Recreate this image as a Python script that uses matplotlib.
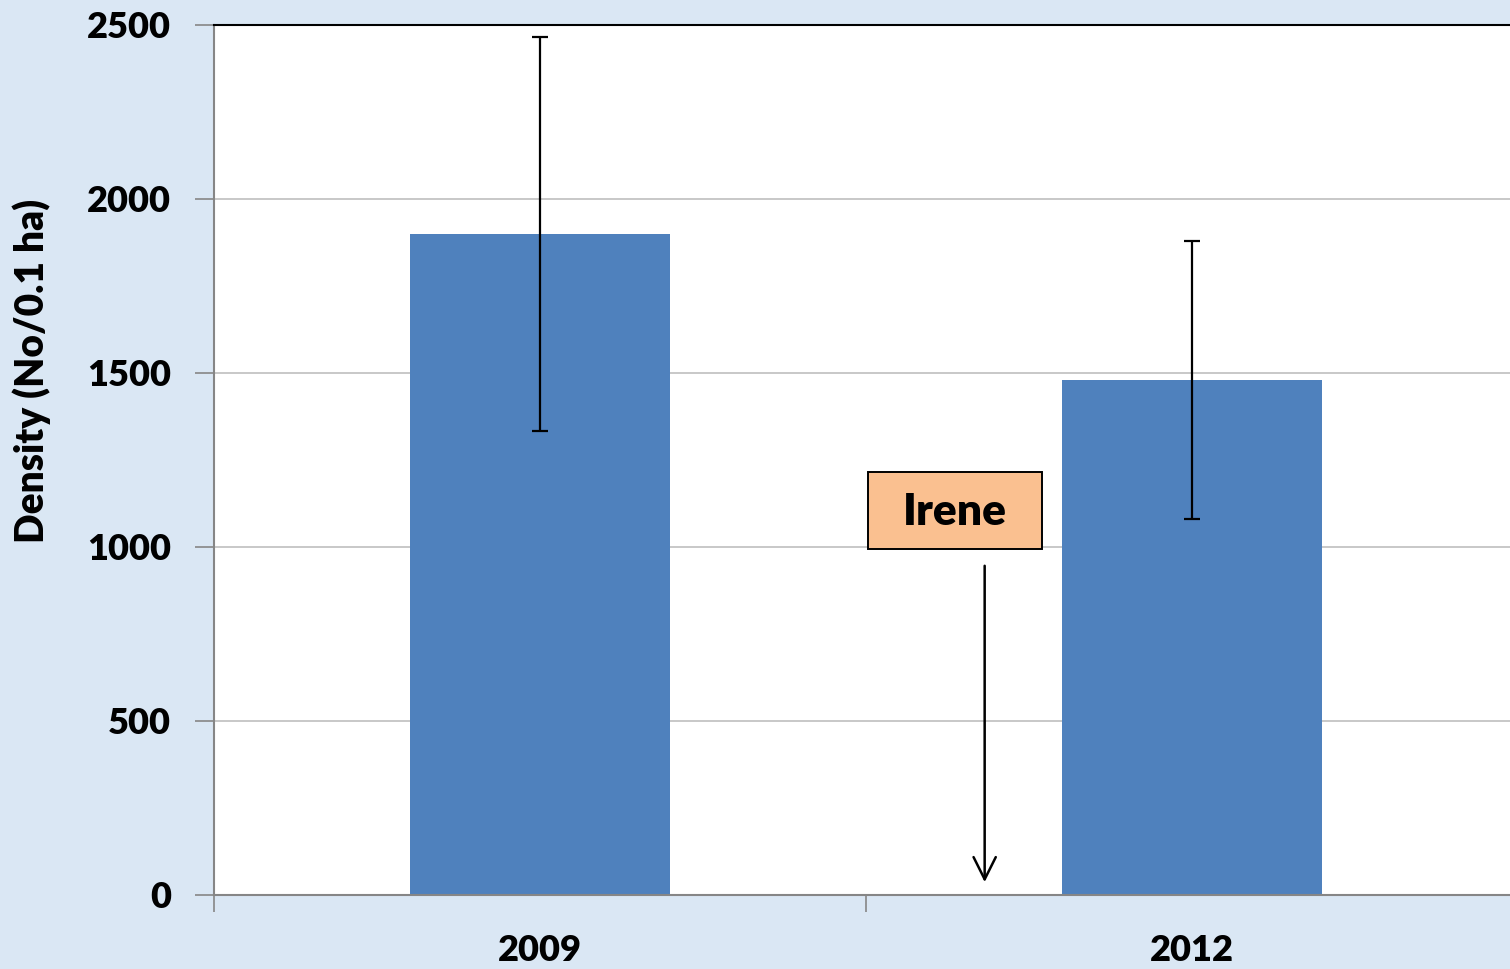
import numpy as np
import matplotlib.pyplot as plt
from matplotlib.patches import Rectangle

# data
years = ["2009", "2012"]
density = [1900, 1480]
err_low = [1333, 1080]
err_high = [2466, 1879]

plt.rcParams['font.family'] = ['Lato', 'DejaVu Sans']
plt.rcParams['font.weight'] = 'heavy'

fig = plt.figure(figsize=(15.1, 9.69), dpi=100)
fig.patch.set_facecolor('#dae7f4')
ax = fig.add_axes([214 / 1510, 1 - 895 / 969, 1304 / 1510, 870 / 969])
ax.set_facecolor('white')

x = np.arange(len(years))
yerr = [np.array(density) - np.array(err_low), np.array(err_high) - np.array(density)]
ax.bar(x, density, width=0.4, color='#4f81bd', zorder=2)
ax.errorbar(x, density, yerr=yerr, fmt='none', ecolor='black', elinewidth=1.6,
            capsize=6, capthick=1.6, zorder=3)

ax.set_xlim(-0.5, 1.5)
ax.set_ylim(0, 2500)
ax.set_yticks(np.arange(0, 2501, 500))
ax.grid(axis='y', color='#bfbfbf', linewidth=1.2, zorder=0)
ax.set_axisbelow(True)

# category boundary ticks, labels centred on the bars
ax.set_xticks([-0.5, 0.5, 1.5])
ax.set_xticklabels([])
ax.set_xticks(x, minor=True)
ax.set_xticklabels(years, minor=True)
ax.tick_params(axis='x', which='major', length=12, width=1.2, color='#868686')
ax.tick_params(axis='x', which='minor', length=0, pad=28, labelsize=26)
ax.tick_params(axis='y', length=14, width=1.2, color='#868686', labelsize=26, pad=17)

for s in ['left', 'bottom']:
    ax.spines[s].set_color('#868686')
    ax.spines[s].set_linewidth(1.5)
ax.spines['top'].set_color('black')
ax.spines['top'].set_linewidth(1.5)
ax.spines['right'].set_visible(False)

# y label sits above the axis centre in the original
fig.text(32 / 1510, 1 - 371 / 969, 'Density (No/0.1 ha)', rotation=90,
         fontsize=28, fontweight='heavy', ha='center', va='center')

# hurricane annotation
ax.annotate('', xy=(0.682, 29), xytext=(0.682, 954),
            arrowprops=dict(arrowstyle='->', color='black', lw=1.8,
                            mutation_scale=40))
ax.add_patch(Rectangle((0.503, 994), 0.267, 222, facecolor='#fac090',
                       edgecolor='black', linewidth=1.4, zorder=4))
ax.text(0.637, 1100, 'Irene', fontsize=32, fontweight='heavy', ha='center', va='center',
        zorder=5)

fig.savefig('out.png', dpi=100, facecolor=fig.get_facecolor())
